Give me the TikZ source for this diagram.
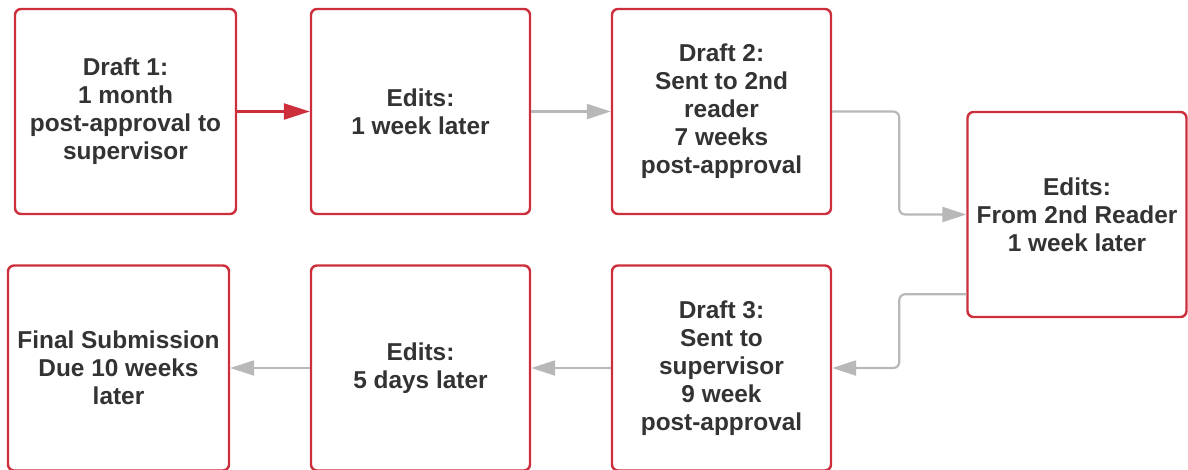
\documentclass[tikz,border=0pt]{standalone}
\usepackage{fontspec}
\setmainfont{Liberation Sans}
\usetikzlibrary{arrows.meta}
\definecolor{boxred}{HTML}{CC2E3C}
\definecolor{arrgray}{HTML}{B8B8B8}
\definecolor{txt}{HTML}{333333}
\tikzset{
  stepbox/.style={draw=boxred, line width=2.4pt, rounded corners=6pt, fill=white,
    minimum height=205pt, align=center, text=txt,
    font=\fontsize{24.4}{28}\selectfont\bfseries, inner sep=2pt},
  grayarrow/.style={draw=arrgray, line width=2.2pt, rounded corners=6pt,
    -{Triangle[length=24pt,width=15pt]}},
  redarrow/.style={draw=boxred, line width=2.4pt,
    -{Triangle[length=26pt,width=16pt]}}
}
\begin{document}
\begin{tikzpicture}[x=1pt,y=-1pt]
\useasboundingbox (0,0) rectangle (1188,469);
\node[stepbox, minimum width=221pt] (d1) at (125.5,111.5) {Draft 1:\\1 month\\post-approval to\\supervisor};
\node[stepbox, minimum width=219pt] (e1) at (420.5,111.5) {Edits:\\1 week later};
\node[stepbox, minimum width=219pt] (d2) at (721.5,111.5) {Draft 2:\\Sent to 2nd\\reader\\7 weeks\\post-approval};
\node[stepbox, minimum width=219pt] (e2) at (1077,214.5) {Edits:\\From 2nd Reader\\1 week later};
\node[stepbox, minimum width=219pt] (d3) at (721.5,368) {Draft 3:\\Sent to\\supervisor\\9 week\\post-approval};
\node[stepbox, minimum width=219pt] (e3) at (420.5,368) {Edits:\\5 days later};
\node[stepbox, minimum width=221pt] (fs) at (118.5,368) {Final Submission\\Due 10 weeks\\later};

\draw[redarrow] (d1.east) -- (e1.west);
\draw[grayarrow] (e1.east) -- (d2.west);
\draw[grayarrow] (d2.east) -- ++(67,0) |- (e2.west);
\draw[grayarrow] ([yshift=24pt]e2.south west) -- ++(-67,0) |- (d3.east);
\draw[grayarrow] (d3.west) -- (e3.east);
\draw[grayarrow] (e3.west) -- (fs.east);
\end{tikzpicture}
\end{document}
